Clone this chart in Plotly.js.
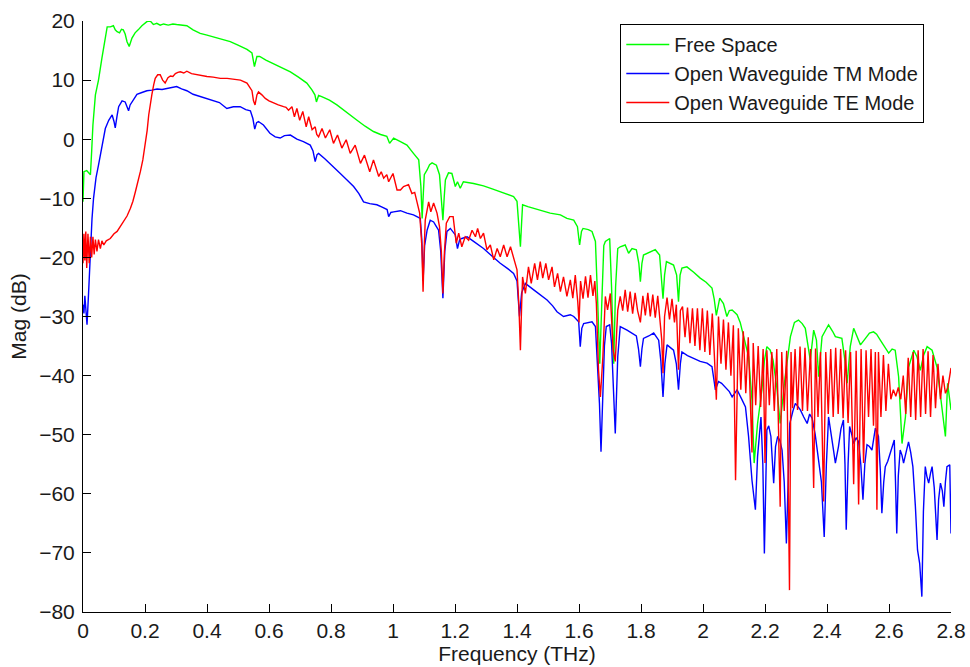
<!DOCTYPE html>
<html>
<head>
<meta charset="utf-8">
<script src="https://cdn.plot.ly/plotly-3.0.1.min.js"></script>
<style>html,body{margin:0;padding:0;background:#fff;}#chart{width:970px;height:667px;}</style>
</head>
<body>
<div id="chart"></div>
<script>
// ---- Free Space ----
const freqFS = [0.000,0.003,0.012,0.020,0.024,0.028,0.032,0.040,0.050,0.061,0.072,0.078,0.088,0.098,0.104,0.110,0.118,0.124,0.130,0.136,0.142,0.149,0.158,0.168,0.178,0.190,0.206,0.217,0.227,0.238,0.249,0.260,0.275,0.290,0.302,0.318,0.335,0.355,0.378,0.400,0.420,0.445,0.475,0.500,0.529,0.545,0.553,0.561,0.570,0.590,0.615,0.640,0.669,0.695,0.722,0.739,0.748,0.753,0.760,0.770,0.795,0.819,0.850,0.884,0.910,0.937,0.960,0.980,0.989,1.002,1.024,1.045,1.066,1.083,1.090,1.094,1.098,1.101,1.110,1.118,1.126,1.140,1.150,1.156,1.161,1.165,1.169,1.179,1.190,1.201,1.208,1.217,1.227,1.260,1.292,1.320,1.346,1.370,1.389,1.400,1.406,1.411,1.415,1.418,1.435,1.454,1.480,1.507,1.540,1.561,1.583,1.595,1.602,1.608,1.613,1.630,1.642,1.653,1.660,1.667,1.674,1.680,1.685,1.699,1.705,1.712,1.718,1.725,1.733,1.749,1.760,1.771,1.785,1.793,1.798,1.803,1.808,1.830,1.846,1.860,1.866,1.871,1.876,1.882,1.905,1.915,1.921,1.926,1.932,1.948,1.970,1.991,2.010,2.029,2.036,2.043,2.054,2.066,2.077,2.085,2.094,2.110,2.120,2.131,2.140,2.147,2.158,2.165,2.176,2.190,2.198,2.206,2.217,2.226,2.238,2.249,2.265,2.282,2.295,2.308,2.320,2.330,2.346,2.357,2.366,2.373,2.384,2.405,2.418,2.427,2.448,2.458,2.465,2.475,2.486,2.497,2.508,2.524,2.537,2.550,2.560,2.572,2.585,2.599,2.610,2.620,2.631,2.642,2.653,2.663,2.680,2.690,2.701,2.712,2.723,2.739,2.755,2.771,2.782,2.789,2.800];
const magFS = [-10.6,-5.5,-5.3,-5.8,-6.0,-2.0,2.4,7.5,10.0,13.7,17.6,19.0,19.0,19.2,18.5,18.2,18.0,18.6,18.5,17.8,16.5,15.7,17.1,18.0,18.5,19.2,19.9,20.0,19.4,19.6,19.3,19.5,19.3,19.5,19.4,19.3,19.2,18.5,17.9,17.6,17.3,16.9,16.5,15.9,15.2,14.6,12.3,14.0,14.0,13.4,12.8,12.1,11.4,10.5,9.5,8.3,7.5,6.3,7.4,7.2,6.6,5.8,4.5,3.2,2.2,1.3,0.8,0.5,-0.7,0.2,-0.4,-1.0,-2.4,-3.5,-8.0,-13.4,-9.0,-6.0,-5.2,-4.3,-4.0,-4.4,-6.0,-10.0,-13.7,-10.0,-6.9,-5.7,-5.8,-8.0,-7.2,-8.3,-7.2,-7.5,-7.9,-8.4,-8.9,-9.3,-9.7,-10.5,-14.0,-18.2,-14.0,-11.1,-11.4,-11.7,-12.1,-12.5,-12.8,-13.4,-13.7,-14.8,-17.9,-15.6,-15.1,-15.3,-15.6,-17.3,-27.0,-38.0,-27.0,-18.0,-17.3,-16.8,-25.0,-38.0,-25.0,-18.5,-18.2,-17.9,-19.3,-18.5,-18.7,-21.0,-24.1,-21.0,-19.6,-19.0,-18.7,-19.6,-23.0,-27.0,-23.0,-20.7,-21.3,-23.0,-27.5,-23.0,-21.8,-21.6,-22.5,-23.5,-24.2,-25.2,-27.0,-29.8,-26.9,-27.8,-30.0,-29.0,-28.9,-29.7,-31.0,-33.4,-35.0,-36.8,-44.1,-54.8,-48.1,-42.4,-37.5,-35.1,-35.7,-37.4,-42.0,-48.1,-40.2,-33.4,-31.0,-30.6,-31.2,-32.0,-37.4,-32.3,-34.0,-40.2,-33.4,-31.4,-32.5,-33.4,-33.7,-37.5,-41.3,-35.1,-32.0,-33.5,-34.8,-33.7,-32.8,-32.6,-33.0,-34.0,-35.0,-36.2,-35.5,-35.7,-40.2,-51.5,-47.0,-38.6,-35.7,-36.8,-39.1,-36.5,-35.1,-35.7,-38.6,-45.3,-50.3,-41.3,-45.8];

// ---- Open Waveguide TM Mode ----
const freqTM = [0.000,0.003,0.006,0.009,0.013,0.018,0.024,0.029,0.034,0.042,0.050,0.061,0.072,0.083,0.090,0.094,0.100,0.104,0.110,0.115,0.126,0.136,0.142,0.147,0.152,0.158,0.165,0.174,0.190,0.206,0.222,0.239,0.255,0.271,0.287,0.302,0.318,0.335,0.355,0.378,0.400,0.420,0.440,0.464,0.485,0.507,0.525,0.540,0.548,0.554,0.560,0.566,0.582,0.603,0.620,0.636,0.650,0.669,0.690,0.711,0.733,0.742,0.749,0.755,0.760,0.780,0.797,0.815,0.830,0.850,0.873,0.890,0.905,0.925,0.948,0.965,0.981,0.986,0.993,1.002,1.024,1.045,1.066,1.077,1.088,1.093,1.097,1.102,1.110,1.120,1.131,1.140,1.147,1.154,1.161,1.167,1.174,1.185,1.201,1.208,1.215,1.222,1.239,1.260,1.292,1.320,1.346,1.370,1.389,1.400,1.408,1.415,1.427,1.454,1.475,1.497,1.515,1.529,1.550,1.572,1.583,1.599,1.604,1.609,1.615,1.630,1.642,1.653,1.660,1.666,1.671,1.677,1.682,1.688,1.699,1.705,1.710,1.717,1.725,1.733,1.755,1.771,1.785,1.792,1.798,1.803,1.808,1.825,1.841,1.857,1.864,1.871,1.877,1.884,1.905,1.914,1.921,1.927,1.932,1.950,1.970,1.991,2.013,2.029,2.040,2.050,2.060,2.072,2.085,2.094,2.110,2.126,2.137,2.147,2.158,2.169,2.176,2.187,2.193,2.198,2.203,2.206,2.212,2.219,2.228,2.234,2.241,2.248,2.255,2.262,2.269,2.275,2.280,2.290,2.298,2.306,2.314,2.325,2.336,2.344,2.352,2.362,2.373,2.382,2.391,2.398,2.405,2.413,2.421,2.427,2.437,2.445,2.453,2.458,2.462,2.468,2.473,2.480,2.486,2.494,2.502,2.509,2.516,2.522,2.529,2.537,2.545,2.556,2.566,2.572,2.577,2.583,2.588,2.596,2.604,2.610,2.617,2.621,2.625,2.630,2.636,2.642,2.647,2.655,2.663,2.670,2.677,2.685,2.692,2.699,2.706,2.711,2.717,2.722,2.728,2.734,2.739,2.746,2.755,2.760,2.766,2.772,2.777,2.782,2.787,2.796,2.800];
const magTM = [-28.0,-29.5,-26.5,-29.0,-31.4,-26.0,-18.5,-13.5,-10.0,-6.5,-4.4,-1.5,1.8,3.2,3.8,4.1,3.0,1.9,4.0,5.5,6.5,6.3,5.5,4.8,5.8,6.3,7.0,7.6,7.9,8.2,8.3,8.5,8.4,8.6,8.7,8.9,8.5,8.2,7.6,7.2,6.9,6.6,6.2,5.2,5.5,5.5,5.0,4.8,3.5,1.7,2.8,3.0,2.4,1.0,0.4,0.2,0.6,0.7,0.0,-0.4,-1.0,-2.0,-3.8,-2.6,-2.4,-3.3,-4.1,-5.0,-5.8,-6.8,-8.0,-9.2,-10.6,-10.9,-11.1,-11.5,-11.9,-13.1,-12.4,-12.3,-12.1,-12.5,-12.8,-13.1,-13.4,-17.0,-24.0,-18.0,-15.4,-13.7,-14.0,-14.8,-15.4,-19.0,-26.9,-19.0,-15.6,-15.1,-16.2,-18.5,-17.0,-16.8,-16.5,-17.3,-18.5,-19.8,-21.0,-21.9,-22.7,-24.0,-30.0,-26.0,-24.4,-25.5,-26.4,-27.2,-28.2,-29.2,-30.0,-29.7,-30.0,-30.9,-35.1,-32.0,-31.2,-31.0,-30.9,-31.7,-39.1,-44.7,-52.9,-44.7,-35.0,-31.7,-31.4,-34.5,-40.2,-49.8,-36.8,-31.7,-32.3,-32.8,-33.3,-35.5,-38.5,-35.5,-33.7,-33.3,-32.8,-34.0,-37.5,-43.6,-38.0,-34.8,-35.7,-38.0,-42.4,-38.0,-36.0,-36.6,-37.1,-37.6,-37.9,-38.5,-42.4,-41.0,-41.3,-41.9,-42.7,-43.6,-42.4,-44.1,-45.3,-50.3,-57.7,-62.7,-53.7,-47.0,-55.0,-70.1,-56.0,-49.2,-48.5,-50.3,-58.2,-52.0,-50.3,-51.0,-52.6,-58.0,-68.4,-56.0,-48.1,-46.0,-44.7,-45.2,-45.8,-47.0,-48.1,-46.5,-47.2,-50.0,-54.8,-58.0,-67.3,-55.0,-47.0,-49.5,-52.6,-54.8,-52.0,-49.0,-47.5,-55.0,-66.1,-55.0,-48.6,-50.0,-51.5,-50.5,-51.2,-55.0,-61.0,-55.0,-51.7,-52.0,-52.6,-48.9,-50.3,-56.0,-63.3,-58.0,-55.4,-54.5,-53.1,-52.0,-50.9,-58.0,-66.7,-57.0,-52.6,-53.5,-54.8,-53.0,-51.2,-53.0,-55.4,-62.0,-69.5,-71.8,-77.4,-63.0,-55.4,-57.0,-58.2,-56.5,-55.4,-59.0,-67.8,-61.0,-58.2,-59.5,-62.2,-58.0,-55.4,-55.1,-66.7];

// ---- Open Waveguide TE Mode ----
const freqTE = [0.000,0.003,0.006,0.009,0.012,0.016,0.020,0.024,0.028,0.032,0.036,0.040,0.045,0.050,0.056,0.061,0.067,0.075,0.088,0.100,0.110,0.120,0.131,0.142,0.153,0.161,0.169,0.177,0.185,0.193,0.201,0.207,0.212,0.217,0.222,0.228,0.233,0.241,0.249,0.257,0.265,0.274,0.282,0.290,0.298,0.306,0.314,0.325,0.335,0.350,0.368,0.385,0.400,0.420,0.443,0.465,0.486,0.508,0.529,0.540,0.545,0.550,0.555,0.561,0.566,0.577,0.588,0.600,0.615,0.630,0.647,0.655,0.663,0.674,0.682,0.690,0.699,0.709,0.720,0.728,0.739,0.749,0.754,0.760,0.771,0.782,0.796,0.808,0.821,0.835,0.849,0.862,0.878,0.895,0.908,0.925,0.937,0.954,0.962,0.970,0.980,0.986,1.000,1.013,1.024,1.034,1.050,1.061,1.070,1.077,1.086,1.093,1.097,1.101,1.104,1.115,1.122,1.131,1.142,1.150,1.156,1.161,1.166,1.172,1.183,1.194,1.204,1.212,1.222,1.233,1.244,1.255,1.266,1.273,1.282,1.292,1.303,1.314,1.325,1.336,1.346,1.357,1.368,1.379,1.389,1.400,1.406,1.411,1.415,1.418,1.427,1.437,1.446,1.457,1.466,1.475,1.483,1.493,1.502,1.513,1.521,1.531,1.540,1.550,1.561,1.572,1.580,1.588,1.596,1.600,1.605,1.613,1.621,1.629,1.637,1.645,1.651,1.656,1.663,1.669,1.677,1.685,1.692,1.701,1.710,1.717,1.725,1.733,1.741,1.749,1.757,1.765,1.773,1.781,1.789,1.798,1.806,1.814,1.822,1.830,1.838,1.846,1.854,1.862,1.867,1.871,1.876,1.884,1.892,1.900,1.908,1.914,1.921,1.927,1.934,1.942,1.950,1.958,1.966,1.974,1.982,1.990,1.998,2.006,2.014,2.022,2.030,2.037,2.043,2.050,2.058,2.066,2.074,2.082,2.090,2.098,2.105,2.114,2.122,2.130,2.138,2.146,2.158,2.162,2.170,2.178,2.186,2.194,2.200,2.206,2.214,2.222,2.230,2.238,2.244,2.249,2.254,2.262,2.270,2.279,2.284,2.289,2.297,2.305,2.313,2.321,2.329,2.337,2.347,2.357,2.363,2.371,2.379,2.389,2.396,2.404,2.412,2.420,2.428,2.436,2.444,2.452,2.460,2.468,2.476,2.486,2.494,2.502,2.510,2.518,2.526,2.534,2.542,2.550,2.556,2.561,2.566,2.574,2.582,2.590,2.598,2.606,2.614,2.622,2.630,2.638,2.646,2.654,2.662,2.670,2.678,2.686,2.694,2.702,2.710,2.718,2.726,2.734,2.742,2.750,2.758,2.766,2.774,2.782,2.790,2.800];
const magTE = [-21.0,-16.0,-20.5,-15.6,-21.8,-16.0,-21.0,-16.5,-20.0,-16.5,-19.5,-17.0,-19.0,-17.0,-18.5,-17.2,-17.9,-17.2,-16.8,-16.0,-15.6,-14.8,-14.0,-13.0,-11.7,-10.5,-8.9,-7.3,-5.5,-3.5,-1.0,1.5,4.1,6.0,7.5,9.2,10.3,10.9,10.9,10.0,9.5,10.4,10.7,10.6,11.1,11.3,11.4,11.2,11.5,11.1,10.9,10.8,10.6,10.5,10.3,10.3,10.2,10.0,9.5,8.5,8.2,6.5,5.8,7.5,8.0,7.5,6.9,6.5,6.1,5.8,5.5,5.4,4.9,5.5,3.8,5.2,3.2,4.7,2.1,3.8,1.6,2.1,0.8,0.4,1.8,0.2,1.6,-0.7,0.7,-1.5,-0.1,-2.4,-1.0,-4.1,-2.7,-5.5,-3.5,-6.3,-5.5,-6.6,-6.0,-7.2,-5.8,-8.6,-8.6,-8.0,-7.7,-9.2,-9.0,-10.8,-12.5,-18.0,-25.8,-18.0,-13.7,-10.6,-12.3,-10.8,-12.5,-14.8,-19.0,-26.1,-19.0,-14.2,-13.1,-13.1,-17.6,-15.9,-18.2,-16.5,-17.1,-15.4,-16.5,-15.1,-16.8,-15.9,-18.7,-17.9,-20.4,-18.5,-19.9,-17.9,-19.9,-18.2,-19.9,-22.1,-28.0,-35.7,-28.0,-23.3,-26.1,-21.6,-24.4,-21.0,-23.8,-20.7,-23.5,-21.0,-23.8,-21.6,-25.0,-22.7,-25.8,-23.3,-26.6,-23.8,-26.9,-23.0,-27.5,-31.0,-24.0,-27.0,-23.2,-26.8,-23.0,-26.5,-24.0,-27.8,-39.1,-43.6,-36.8,-26.6,-28.9,-26.1,-35.7,-37.6,-28.9,-26.6,-29.0,-25.5,-29.2,-25.8,-29.5,-26.0,-29.0,-31.0,-26.5,-29.8,-26.0,-30.0,-26.3,-30.2,-26.5,-30.5,-34.0,-39.6,-30.0,-26.8,-30.5,-27.0,-31.0,-28.0,-39.0,-29.0,-28.3,-33.5,-28.5,-34.5,-28.6,-35.0,-28.6,-35.7,-28.6,-36.0,-29.0,-36.5,-29.5,-37.0,-44.1,-30.0,-38.0,-30.5,-39.0,-31.0,-40.0,-31.5,-57.7,-32.0,-42.4,-32.5,-43.0,-33.5,-53.0,-34.5,-45.0,-35.0,-45.3,-35.5,-54.8,-35.7,-45.0,-36.0,-46.0,-35.5,-52.0,-62.2,-36.0,-46.0,-35.8,-76.3,-36.0,-45.5,-35.5,-45.8,-35.1,-46.0,-35.3,-46.0,-35.5,-59.0,-35.4,-47.0,-36.0,-61.3,-36.0,-46.5,-35.5,-47.0,-35.3,-46.5,-35.5,-47.2,-35.7,-48.0,-36.0,-58.4,-35.8,-61.8,-35.5,-54.8,-35.7,-47.0,-35.5,-48.5,-36.0,-62.7,-36.0,-47.0,-36.5,-46.0,-38.0,-44.0,-42.4,-43.5,-42.0,-44.0,-40.0,-46.5,-37.0,-47.0,-36.0,-47.5,-35.7,-47.0,-35.5,-46.5,-35.9,-47.0,-36.5,-45.5,-38.0,-44.0,-40.0,-43.0,-42.0,-38.7];

// ---- axes ----
const xTickVals = [0,0.2,0.4,0.6,0.8,1,1.2,1.4,1.6,1.8,2,2.2,2.4,2.6,2.8];
const xTickText = ['0','0.2','0.4','0.6','0.8','1','1.2','1.4','1.6','1.8','2','2.2','2.4','2.6','2.8'];
const yTickVals = [-80,-70,-60,-50,-40,-30,-20,-10,0,10,20];
const seriesNames = ['Free Space','Open Waveguide TM Mode','Open Waveguide TE Mode'];
const seriesColors = ['#00ff00','#0000ff','#ff0000'];

const FONT = 'Liberation Sans, Arial, Helvetica, sans-serif';
const traces = [
  {x: freqFS, y: magFS, name: seriesNames[0], mode: 'lines', line: {color: seriesColors[0], width: 1.4}},
  {x: freqTM, y: magTM, name: seriesNames[1], mode: 'lines', line: {color: seriesColors[1], width: 1.4}},
  {x: freqTE, y: magTE, name: seriesNames[2], mode: 'lines', line: {color: seriesColors[2], width: 1.4}}
];

const axisCommon = {
  showline: true, linecolor: '#000', linewidth: 1,
  ticks: 'inside', ticklen: 8, tickcolor: '#000', tickwidth: 1,
  showgrid: false, zeroline: false, mirror: false,
  tickfont: {family: FONT, size: 21, color: '#1a1a1a'}
};

const layout = {
  width: 970, height: 667,
  margin: {l: 83, r: 19, t: 21, b: 55, pad: 0},
  paper_bgcolor: '#fff', plot_bgcolor: '#fff',
  font: {family: FONT, size: 21, color: '#1a1a1a'},
  xaxis: Object.assign({}, axisCommon, {
    range: [0, 2.8], tickmode: 'array', tickvals: xTickVals, ticktext: xTickText,
    ticklabelstandoff: 0,
    title: {text: 'Frequency (THz)', font: {family: FONT, size: 21, color: '#1a1a1a'}, standoff: 0}
  }),
  yaxis: Object.assign({}, axisCommon, {
    range: [-80, 20], tickmode: 'array', tickvals: yTickVals,
    ticklabelstandoff: 3,
    title: {text: 'Mag (dB)', font: {family: FONT, size: 21, color: '#1a1a1a'}, standoff: 6}
  }),
  showlegend: true,
  legend: {
    x: 0.619, y: 0.995, xanchor: 'left', yanchor: 'top',
    bgcolor: '#fff', bordercolor: '#000', borderwidth: 1,
    font: {family: FONT, size: 20, color: '#1a1a1a'},
    tracegroupgap: 0, itemwidth: 43
  }
};

Plotly.newPlot('chart', traces, layout, {staticPlot: true, displayModeBar: false});
</script>
</body>
</html>
